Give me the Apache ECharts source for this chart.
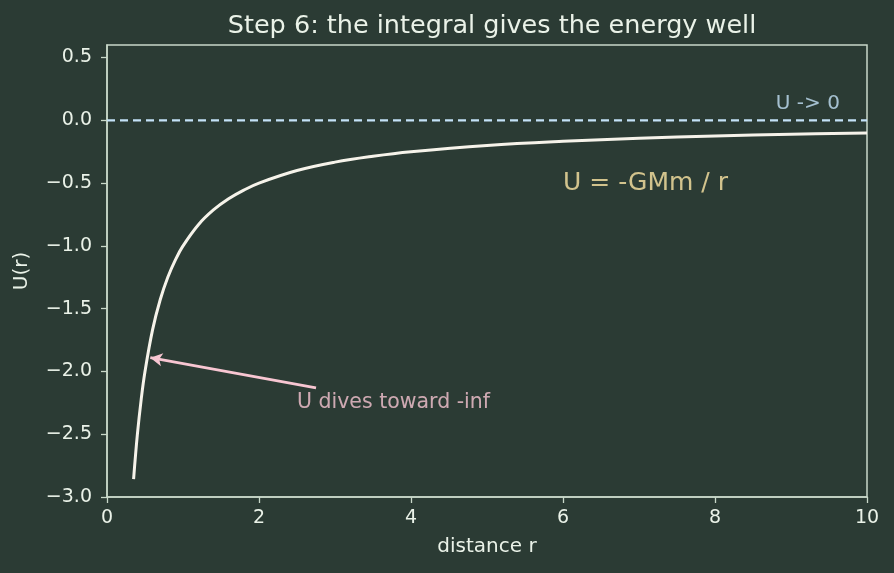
<!DOCTYPE html>
<html>
<head>
<meta charset="utf-8">
<script src="https://cdn.jsdelivr.net/npm/echarts@6/dist/echarts.min.js"></script>
<style>
  html, body { margin: 0; padding: 0; background: #2b3b34; }
  #chart { width: 894px; height: 573px; }
</style>
</head>
<body>
<div id="chart"></div>
<script>
  // values
  var rValues = [0.35, 0.4, 0.45, 0.5, 0.6, 0.7, 0.8, 0.9, 1.0, 1.2, 1.4, 1.6, 1.8, 2.0, 2.5, 3.0, 3.5, 4.0, 5.0, 6.0, 7.0, 8.0, 9.0, 10.0];
  var uValues = [-2.857, -2.5, -2.222, -2.0, -1.667, -1.429, -1.25, -1.111, -1.0, -0.833, -0.714, -0.625, -0.556, -0.5, -0.4, -0.333, -0.286, -0.25, -0.2, -0.167, -0.143, -0.125, -0.111, -0.1];
  var zeroLine = [[0, 0], [10, 0]];
  var arrowFrom = [2.75, -2.13];
  var arrowTo = [0.57, -1.89];
  var notes = [
    { text: 'U = -GMm / r', at: [6.0, -0.5], color: '#fce6a4', size: 25 },
    { text: 'U -> 0', at: [8.8, 0.13], color: '#c4e2f7', size: 20 },
    { text: 'U dives toward -inf', at: [2.5, -2.25], color: '#f8c6d2', size: 20.5 }
  ];

  var curve = rValues.map(function (r, i) { return [r, uValues[i]]; });
  var axisCol = '#c9d8c9';
  var textCol = '#eaf2e8';

  function fmtY(v) {
    var s = Math.abs(v).toFixed(1);
    return v < 0 ? '\u2212' + s : s;
  }

  var myChart = echarts.init(document.getElementById('chart'));
  myChart.setOption({
    backgroundColor: '#2b3b34',
    textStyle: { fontFamily: 'DejaVu Sans' },
    title: {
      text: 'Step 6: the integral gives the energy well',
      left: 487, top: 8, textAlign: 'center',
      textStyle: { color: textCol, fontSize: 25.5, fontWeight: 'normal', fontFamily: 'DejaVu Sans' }
    },
    grid: { left: 107, right: 27, top: 45, bottom: 76, show: true, borderColor: axisCol, borderWidth: 1.5, backgroundColor: 'transparent' },
    xAxis: {
      type: 'value', min: 0, max: 10, interval: 2,
      name: 'distance r', nameLocation: 'middle', nameGap: 40,
      nameTextStyle: { color: textCol, fontSize: 20 },
      axisLine: { onZero: false, lineStyle: { color: axisCol, width: 1.5 } },
      axisTick: { show: true, length: 6, lineStyle: { color: axisCol, width: 1.3 } },
      axisLabel: { color: textCol, fontSize: 19, margin: 12 },
      splitLine: { show: false }
    },
    yAxis: {
      type: 'value', min: -3, max: 0.6, interval: 0.5,
      name: 'U(r)', nameLocation: 'middle', nameGap: 75, nameRotate: 90,
      nameTextStyle: { color: textCol, fontSize: 20 },
      axisLine: { show: true, onZero: false, lineStyle: { color: axisCol, width: 1.5 } },
      axisTick: { show: true, length: 6, lineStyle: { color: axisCol, width: 1.3 } },
      axisLabel: { color: textCol, fontSize: 19, margin: 15, formatter: fmtY },
      splitLine: { show: false }
    },
    series: [
      {
        type: 'line', data: zeroLine, symbol: 'none', silent: true,
        lineStyle: { color: '#c4e2f7', width: 2.2, type: [8, 5] }
      },
      {
        type: 'line', data: curve, symbol: 'none', smooth: 0.4,
        lineStyle: { color: '#f6f3ea', width: 3 },
        markLine: {
          silent: true, symbol: ['none', 'arrow'], symbolSize: [10, 12],
          label: { show: false },
          lineStyle: { color: '#f8c6d2', width: 2.8, type: 'solid' },
          data: [[{ coord: arrowFrom }, { coord: arrowTo }]]
        }
      },
      {
        type: 'scatter', symbolSize: 0, silent: true,
        data: notes.map(function (n) {
          return {
            value: n.at,
            label: {
              show: true, position: 'right', distance: 0, formatter: n.text,
              color: n.color, fontSize: n.size, fontFamily: 'DejaVu Sans'
            }
          };
        })
      }
    ]
  });
</script>
</body>
</html>
